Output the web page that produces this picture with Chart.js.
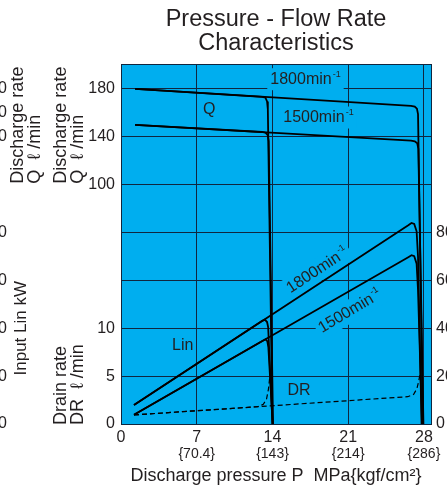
<!DOCTYPE html>
<html>
<head>
<meta charset="utf-8">
<script src="https://cdn.jsdelivr.net/npm/chart.js@4.4.1/dist/chart.umd.min.js"></script>
<style>
  html, body { margin: 0; padding: 0; background: #fff; overflow: hidden; }
</style>
</head>
<body>
<canvas id="pqChart" width="447" height="488"></canvas>
<script>
const pressureTicks = [0, 7, 14, 21, 28];
const kgfLabels = ["", "{70.4}", "{143}", "{214}", "{286}"];
const qTicks = [100, 140, 180];
const qOuterTicks = [140, 160, 180];
const drLabelTicks = [0, 5, 10];
const linTicks = [0, 20, 40, 60, 80];

// [P MPa, value]
const q1800Set14 = [[1.3, 180], [13.05, 173.4], [13.35, 172.6], [13.5, 169.5], [13.57, 163], [14.0, -100]];
const q1800Set28 = [[1.3, 180], [26.8, 165.9], [27.15, 165.3], [27.35, 163.5], [27.45, 159], [27.9, -100]];
const q1500Set14 = [[1.3, 150], [13.05, 144.0], [13.35, 143.4], [13.55, 141.5], [13.65, 136.5], [14.05, -100]];
const q1500Set28 = [[1.3, 150], [26.8, 136.8], [27.15, 136.2], [27.38, 134.5], [27.48, 130], [27.95, -100]];

const lin1800Set14 = [[1.2, 7.9], [13.05, 43.1], [13.3, 43.6], [13.5, 42.6], [13.6, 40.5], [14.0, 0]];
const lin1800Set28 = [[1.2, 7.9], [26.55, 83.0], [26.85, 84.0], [27.1, 83.6], [27.32, 80.5], [27.45, 70], [27.78, 0]];
const lin1500Set14 = [[1.2, 3.9], [13.1, 34.8], [13.35, 35.4], [13.52, 34.6], [13.62, 32], [14.02, 0]];
const lin1500Set28 = [[1.2, 3.9], [26.55, 69.7], [26.85, 70.5], [27.1, 70.1], [27.32, 67], [27.45, 56], [27.82, 0]];

const drSet14 = [[1.2, 0.95], [12.6, 1.8], [13.15, 2.05], [13.45, 2.6], [13.62, 3.6], [13.74, 4.8]];
const drSet28 = [[1.2, 0.95], [26.5, 2.85], [27.05, 3.1], [27.35, 3.7], [27.52, 4.5], [27.66, 5.4]];

const plotBlue = "#00aeef";
const gridDark = "#10263f";
const ink = "#231f20";
const family = '"Liberation Sans", Arial, Helvetica, sans-serif';

// text written inside the plot, placed in data units
const plotLabels = [
  { text: "Q", p: 8.15, axis: "yQ", v: 162.3 },
  { text: "1800min", sup: "-1", p: 17.05, axis: "yQ", v: 188.1, box: true },
  { text: "1500min", sup: "-1", p: 18.25, axis: "yQ", v: 156.1, box: true },
  { text: "1800min", sup: "-1", p: 18.15, axis: "yLin", v: 64.2, rot: -33.5, box: true },
  { text: "1500min", sup: "-1", p: 21.15, axis: "yLin", v: 47.1, rot: -31, box: true },
  { text: "Lin", p: 5.7, axis: "yLin", v: 32.6 },
  { text: "DR", p: 16.45, axis: "yDR", v: 3.47 },
];

function lineSet(points, yAxisID, dashed) {
  return {
    data: points.map(([x, y]) => ({ x, y })),
    yAxisID,
    borderColor: "#000",
    borderWidth: dashed ? 1.2 : 1.8,
    borderDash: dashed ? [5, 3] : [],
    pointRadius: 0,
    tension: 0,
    fill: false,
    clip: false, // the Q axis only covers the upper band, its drop lines run to the bottom
  };
}

function drawLabel(chart, l) {
  const { ctx } = chart;
  const x = chart.scales.x.getPixelForValue(l.p);
  const y = chart.scales[l.axis].getPixelForValue(l.v);
  ctx.save();
  ctx.translate(x, y);
  ctx.rotate(((l.rot || 0) * Math.PI) / 180);
  ctx.font = `16px ${family}`;
  const w = ctx.measureText(l.text).width;
  let supW = 0;
  if (l.sup) {
    ctx.font = `9px ${family}`;
    supW = ctx.measureText(l.sup).width + 1;
  }
  const total = w + supW;
  if (l.box) {
    ctx.fillStyle = plotBlue;
    ctx.fillRect(-total / 2 - 3, -11, total + 6, 22);
  }
  ctx.fillStyle = ink;
  ctx.textAlign = "left";
  ctx.textBaseline = "middle";
  ctx.font = `16px ${family}`;
  ctx.fillText(l.text, -total / 2, 0);
  if (l.sup) {
    ctx.font = `9px ${family}`;
    ctx.fillText(l.sup, -total / 2 + w + 1, -5);
  }
  ctx.restore();
}

function verticalText(ctx, text, x, y, align, size) {
  ctx.save();
  ctx.translate(x, y);
  ctx.rotate(-Math.PI / 2);
  ctx.font = `${size}px ${family}`;
  ctx.fillStyle = ink;
  ctx.textAlign = align;
  ctx.textBaseline = "middle";
  ctx.fillText(text, 0, 0);
  ctx.restore();
}

const plotDecor = {
  id: "plotDecor",
  beforeDraw(chart) {
    const { ctx, chartArea: a } = chart;
    ctx.save();
    ctx.fillStyle = plotBlue;
    ctx.fillRect(a.left, a.top, a.right - a.left, a.bottom - a.top);
    ctx.restore();
  },
  beforeDatasetsDraw(chart) {
    plotLabels.forEach((l) => drawLabel(chart, l));
  },
  afterDraw(chart) {
    const { ctx, scales } = chart;
    const { yQ, yDR, yLin } = scales;

    // outer axis, mostly cut off by the left edge
    ctx.save();
    ctx.font = `16px ${family}`;
    ctx.fillStyle = ink;
    ctx.textAlign = "right";
    ctx.textBaseline = "middle";
    qOuterTicks.forEach((v) => ctx.fillText(String(v), 7, yQ.getPixelForValue(v)));
    linTicks.forEach((v) => ctx.fillText(String(v), 7, yLin.getPixelForValue(v)));
    ctx.restore();

    const qStart = yQ.getPixelForValue(100) - 1;
    const drStart = yDR.getPixelForValue(0) + 1;
    const linMid = (yLin.getPixelForValue(0) + yLin.getPixelForValue(80)) / 2;

    verticalText(ctx, "Discharge rate", 18.5, qStart, "left", 18);
    verticalText(ctx, "Q  \u2113 /min", 35, qStart, "left", 18);
    verticalText(ctx, "Input Lin kW", 21, linMid, "center", 17);

    verticalText(ctx, "Discharge rate", 60.8, qStart, "left", 18);
    verticalText(ctx, "Q  \u2113 /min", 78, qStart, "left", 18);
    verticalText(ctx, "Drain rate", 60.8, drStart, "left", 18);
    verticalText(ctx, "DR  \u2113 /min", 78.5, drStart, "left", 18);
  },
};

const tickFont = { size: 16, family };

new Chart(document.getElementById("pqChart"), {
  type: "line",
  data: {
    datasets: [
      lineSet(q1800Set14, "yQ"),
      lineSet(q1800Set28, "yQ"),
      lineSet(q1500Set14, "yQ"),
      lineSet(q1500Set28, "yQ"),
      lineSet(lin1800Set14, "yLin"),
      lineSet(lin1800Set28, "yLin"),
      lineSet(lin1500Set14, "yLin"),
      lineSet(lin1500Set28, "yLin"),
      lineSet(drSet14, "yDR", true),
      lineSet(drSet28, "yDR", true),
    ],
  },
  options: {
    responsive: false,
    animation: false,
    devicePixelRatio: 1,
    layout: { padding: 0 },
    plugins: {
      legend: { display: false },
      tooltip: { enabled: false },
      title: {
        display: true,
        fullSize: false,
        text: ["Pressure - Flow Rate", "Characteristics"],
        color: ink,
        font: { size: 23.5, family, weight: "normal", lineHeight: 1.0 },
        padding: { top: 8, bottom: 9 },
      },
    },
    scales: {
      x: {
        type: "linear",
        min: 0,
        max: 28.65,
        afterBuildTicks: (s) => { s.ticks = pressureTicks.map((value) => ({ value })); },
        afterFit: (s) => { s.height = 21; },
        grid: { color: gridDark, lineWidth: 1, drawTicks: false },
        border: { color: gridDark, width: 1 },
        ticks: { color: ink, font: tickFont, padding: 4, maxRotation: 0, autoSkip: false },
      },
      x2: {
        type: "linear",
        position: "bottom",
        min: 0,
        max: 28.65,
        afterBuildTicks: (s) => { s.ticks = pressureTicks.map((value) => ({ value })); },
        afterFit: (s) => { s.height = 43; },
        grid: { display: false, drawTicks: false },
        border: { display: false },
        ticks: {
          color: ink,
          font: { size: 14, family },
          padding: 1,
          maxRotation: 0,
          autoSkip: false,
          callback: (v) => kgfLabels[pressureTicks.indexOf(v)],
        },
        title: {
          display: true,
          text: "Discharge pressure P  MPa{kgf/cm\u00b2}",
          color: ink,
          font: { size: 18, family },
          padding: { top: 0, bottom: 1 },
        },
      },
      // Q and DR share the left column: Q on the upper part, DR below
      yQ: {
        type: "linear",
        position: "left",
        stack: "left",
        stackWeight: 121,
        weight: 2,
        min: 100,
        max: 200.8,
        afterBuildTicks: (s) => { s.ticks = [...qTicks, s.max].map((value) => ({ value })); },
        afterFit: (s) => { s.width = 121; },
        grid: { color: gridDark, lineWidth: 1, drawTicks: false },
        border: { color: gridDark, width: 1 },
        ticks: {
          color: ink,
          font: tickFont,
          padding: 6,
          autoSkip: false,
          callback: (v) => (qTicks.includes(v) ? String(v) : ""),
        },
      },
      yDR: {
        type: "linear",
        position: "left",
        stack: "left",
        stackWeight: 240,
        weight: 1,
        min: 0,
        max: 25,
        afterFit: (s) => { s.width = 121; },
        grid: { color: gridDark, lineWidth: 1, drawTicks: false },
        border: { color: gridDark, width: 1 },
        ticks: {
          stepSize: 5,
          color: ink,
          font: tickFont,
          padding: 6,
          autoSkip: false,
          callback: (v) => (drLabelTicks.includes(v) ? String(v) : ""),
        },
      },
      yLin: {
        type: "linear",
        position: "right",
        min: 0,
        max: 150.4,
        afterBuildTicks: (s) => { s.ticks = linTicks.map((value) => ({ value })); },
        afterFit: (s) => { s.width = 16; },
        grid: { display: false, drawTicks: false },
        border: { color: gridDark, width: 1 },
        ticks: { color: ink, font: tickFont, padding: 5 },
      },
    },
  },
  plugins: [plotDecor],
});
</script>
</body>
</html>
